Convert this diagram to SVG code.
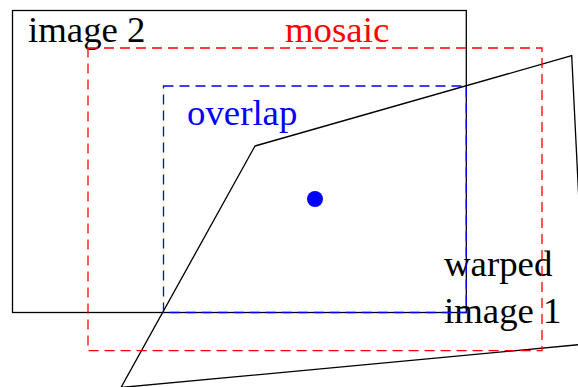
<svg xmlns="http://www.w3.org/2000/svg" width="578" height="387" viewBox="0 0 578 387">
<style>
.t{font-family:"Liberation Serif","Times New Roman",serif;font-size:36.8px}
.solid{fill:none;stroke:#000;stroke-width:1.3}
.dash{fill:none;stroke-width:1.3;stroke-dasharray:10,6}
</style>
<rect width="578" height="387" fill="#fff"/>
<g id="image2">
<rect class="solid" x="12.5" y="10.5" width="453.8" height="302"/>
<text class="t" x="28" y="41.5" fill="#000">image 2</text>
</g>
<g id="warped-image1">
<polygon class="solid" points="255,146 571.7,55.7 586,344 121,387.5"/>
<text class="t" x="444" y="276" fill="#000">warped</text>
<text class="t" x="444" y="323" fill="#000">image 1</text>
</g>
<g id="mosaic">
<rect class="dash" stroke="#ff0000" x="88" y="48" width="454" height="302.7"/>
<text class="t" x="285" y="41.5" fill="#ff0000">mosaic</text>
</g>
<g id="overlap">
<rect class="dash" stroke="#0000ff" x="163.5" y="86" width="302.8" height="226.5"/>
<text class="t" x="187" y="125" fill="#0000ff">overlap</text>
<circle cx="315" cy="199" r="8" fill="#0000ff"/>
</g>
</svg>
